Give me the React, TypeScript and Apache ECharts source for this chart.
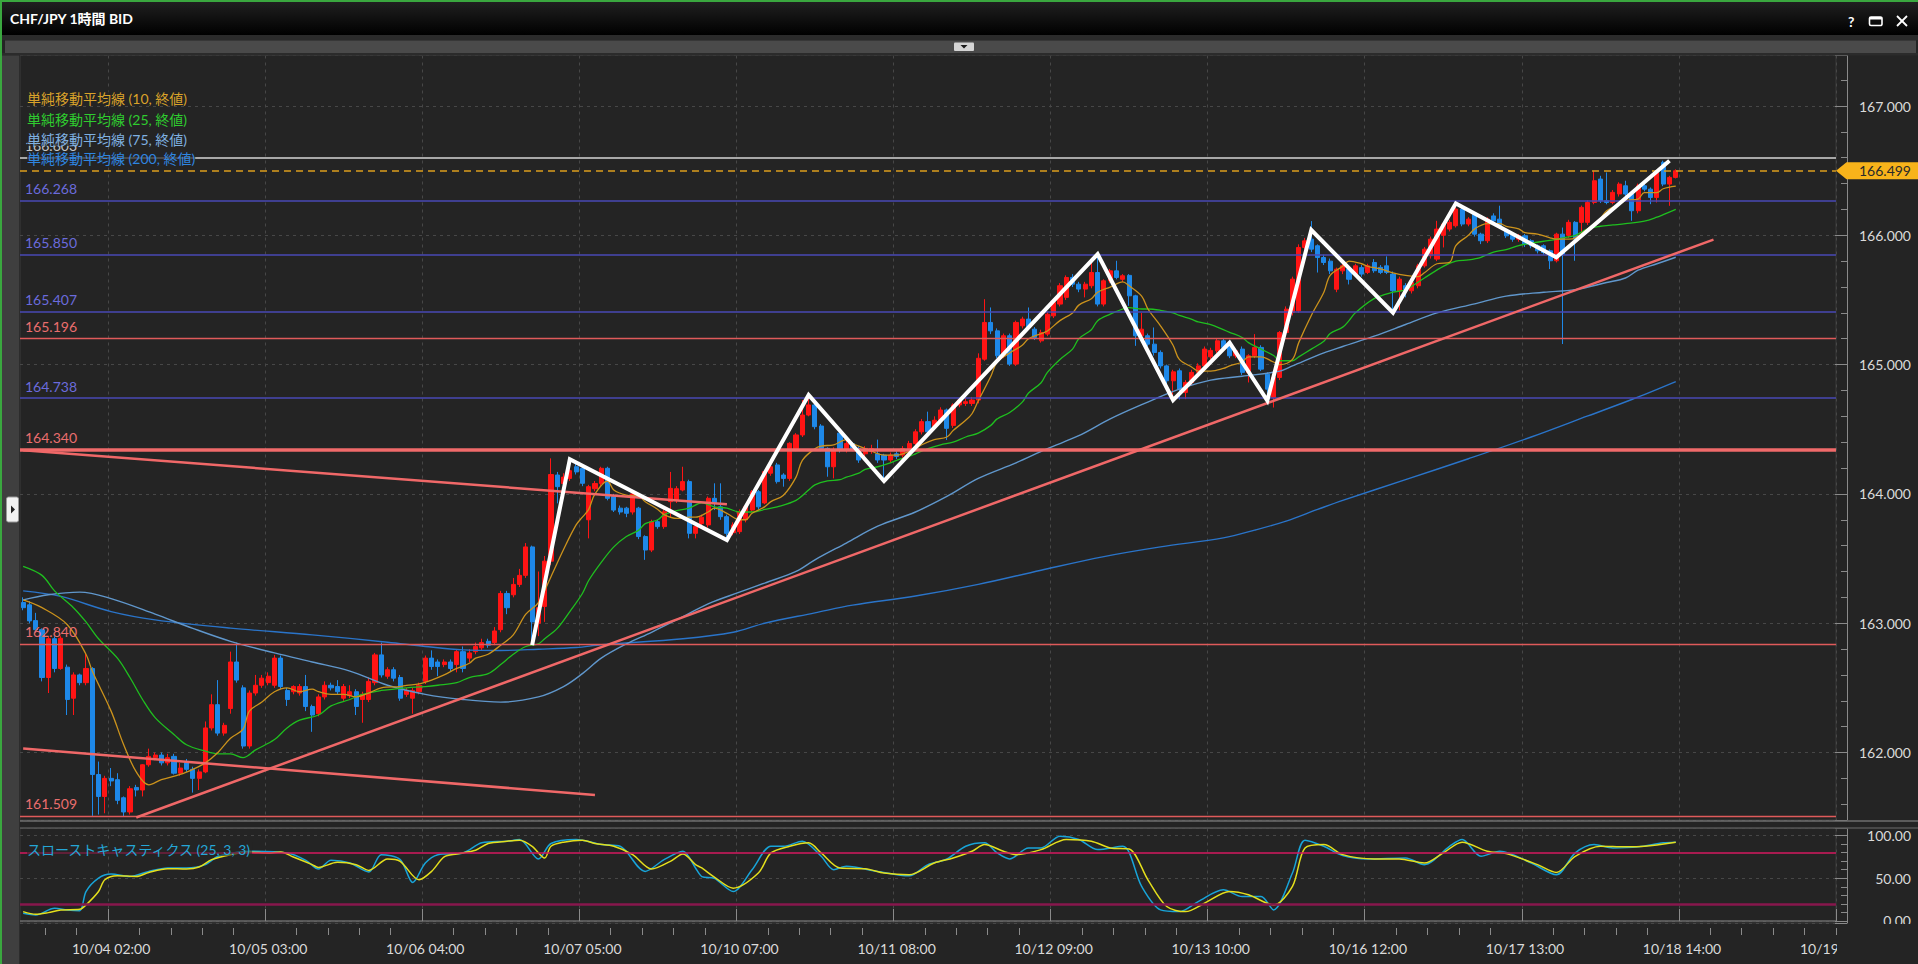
import React, { useEffect, useRef } from 'react';
import * as echarts from 'echarts';

const FONT = 'Lato, "Noto Sans CJK JP", "Noto Sans", sans-serif';

// ---- axis definitions ----
const N_BARS = 289;
const FIRST_TICK = 14;
const TICK_STEP = 25;
const MINOR_STEP = 5;
const xTickLabels = ['10/04 02:00', '10/05 03:00', '10/06 04:00', '10/07 05:00', '10/10 07:00', '10/11 08:00', '10/12 09:00', '10/13 10:00', '10/16 12:00', '10/17 13:00', '10/18 14:00', '10/19 15:00'];
const categories = Array.from({ length: N_BARS }, (_, i) => String(i));
const priceMin = 161.478;
const priceMax = 167.3906;
const stochMin = -2.34;
const stochMax = 108.19;

// ---- candles: [open, close, low, high] ----
const candles: number[][] = [
  [163.16, 163.12, 163.10, 163.20], [163.142, 163.018, 163.00, 163.17], [163.02, 162.95, 162.93, 163.08], [162.95, 162.58, 162.55, 162.96],
  [162.58, 162.88, 162.46, 162.90], [162.88, 162.65, 162.62, 162.90], [162.65, 162.884, 162.64, 162.90], [162.66, 162.41, 162.29, 162.68],
  [162.42, 162.60, 162.29, 162.62], [162.60, 162.54, 162.52, 162.61], [162.54, 162.65, 162.52, 162.77], [162.65, 161.83, 161.51, 162.66],
  [161.83, 161.66, 161.52, 161.93], [161.66, 161.80, 161.53, 161.82], [161.80, 161.78, 161.74, 161.88], [161.79, 161.63, 161.60, 161.84],
  [161.65, 161.54, 161.505, 161.66], [161.54, 161.72, 161.52, 161.74], [161.73, 161.71, 161.66, 161.75], [161.71, 161.905, 161.66, 161.91],
  [161.905, 161.97, 161.89, 162.03], [161.96, 161.98, 161.94, 162.00], [161.98, 161.92, 161.90, 162.00], [161.92, 161.96, 161.90, 161.99],
  [161.97, 161.84, 161.83, 161.99], [161.84, 161.88, 161.82, 161.92], [161.92, 161.87, 161.85, 161.95], [161.87, 161.80, 161.69, 161.89],
  [161.80, 161.85, 161.71, 161.87], [161.85, 162.19, 161.84, 162.24], [162.19, 162.37, 162.17, 162.45], [162.37, 162.15, 162.13, 162.56],
  [162.15, 162.21, 162.13, 162.23], [162.34, 162.70, 162.30, 162.78], [162.70, 162.56, 162.54, 162.85], [162.50, 162.05, 162.03, 162.52],
  [162.05, 162.46, 162.03, 162.48], [162.46, 162.52, 162.44, 162.60], [162.52, 162.575, 162.50, 162.60], [162.54, 162.59, 162.52, 162.62],
  [162.52, 162.73, 162.50, 162.755], [162.73, 162.51, 162.49, 162.75], [162.48, 162.41, 162.36, 162.50], [162.47, 162.51, 162.45, 162.52],
  [162.46, 162.51, 162.44, 162.53], [162.51, 162.356, 162.32, 162.60], [162.356, 162.29, 162.16, 162.37], [162.30, 162.43, 162.28, 162.45],
  [162.43, 162.52, 162.41, 162.55], [162.52, 162.50, 162.48, 162.54], [162.51, 162.47, 162.45, 162.56], [162.42, 162.51, 162.40, 162.53],
  [162.44, 162.47, 162.42, 162.52], [162.47, 162.356, 162.29, 162.49], [162.41, 162.45, 162.23, 162.47], [162.41, 162.55, 162.39, 162.58],
  [162.54, 162.755, 162.52, 162.77], [162.755, 162.60, 162.58, 162.85], [162.59, 162.64, 162.57, 162.66], [162.64, 162.575, 162.55, 162.66],
  [162.58, 162.42, 162.40, 162.60], [162.45, 162.48, 162.43, 162.50], [162.42, 162.48, 162.30, 162.50], [162.47, 162.52, 162.45, 162.54],
  [162.55, 162.73, 162.53, 162.75], [162.73, 162.665, 162.64, 162.79], [162.70, 162.665, 162.59, 162.72], [162.68, 162.70, 162.66, 162.72],
  [162.70, 162.65, 162.63, 162.72], [162.68, 162.78, 162.62, 162.80], [162.78, 162.65, 162.62, 162.82], [162.73, 162.77, 162.70, 162.80],
  [162.78, 162.82, 162.76, 162.85], [162.81, 162.85, 162.79, 162.88], [162.86, 162.83, 162.81, 162.88], [162.85, 162.94, 162.83, 162.97],
  [162.95, 163.23, 162.93, 163.25], [163.23, 163.12, 163.07, 163.25], [163.22, 163.30, 163.20, 163.35], [163.30, 163.37, 163.28, 163.42],
  [163.37, 163.59, 163.35, 163.62], [163.59, 163.01, 162.84, 163.60], [163.00, 163.12, 162.90, 163.40], [163.13, 163.48, 163.01, 163.52],
  [163.48, 164.15, 163.45, 164.275], [164.146, 164.056, 163.927, 164.17], [164.08, 164.13, 164.04, 164.16], [164.12, 164.18, 164.10, 164.22],
  [164.21, 164.17, 164.15, 164.25], [164.198, 164.082, 164.06, 164.22], [163.80, 164.056, 163.656, 164.07], [164.04, 164.08, 164.02, 164.10],
  [164.08, 164.198, 164.06, 164.21], [164.198, 163.966, 163.95, 164.21], [163.98, 163.875, 163.86, 164.00], [163.89, 163.86, 163.84, 163.91],
  [163.89, 163.85, 163.82, 163.90], [163.86, 164.00, 163.84, 164.02], [163.89, 163.67, 163.65, 163.90], [163.67, 163.566, 163.49, 163.68],
  [163.566, 163.785, 163.55, 163.80], [163.785, 163.747, 163.73, 163.80], [163.747, 163.862, 163.73, 163.88], [163.94, 164.043, 163.82, 164.17],
  [163.95, 164.04, 163.93, 164.06], [164.03, 164.095, 164.02, 164.21], [164.095, 163.695, 163.656, 164.11], [163.695, 163.747, 163.656, 163.76],
  [163.77, 163.82, 163.75, 163.84], [163.76, 163.966, 163.74, 163.98], [163.966, 163.927, 163.875, 164.082], [163.90, 163.824, 163.80, 164.082],
  [163.824, 163.695, 163.643, 163.84], [163.70, 163.76, 163.68, 163.78], [163.708, 163.862, 163.69, 163.88], [163.80, 163.90, 163.78, 163.92],
  [163.875, 164.017, 163.86, 164.03], [164.017, 163.90, 163.88, 164.03], [163.93, 164.172, 163.92, 164.18], [164.16, 164.21, 164.14, 164.24],
  [164.224, 164.095, 164.08, 164.24], [164.146, 164.12, 164.056, 164.16], [164.12, 164.391, 164.10, 164.40], [164.35, 164.456, 164.33, 164.47],
  [164.456, 164.61, 164.44, 164.726], [164.61, 164.688, 164.60, 164.765], [164.688, 164.52, 164.50, 164.70], [164.525, 164.352, 164.33, 164.54],
  [164.352, 164.21, 164.133, 164.36], [164.21, 164.34, 164.12, 164.36], [164.47, 164.34, 164.32, 164.50], [164.34, 164.39, 164.32, 164.41],
  [164.39, 164.352, 164.33, 164.40], [164.352, 164.262, 164.24, 164.37], [164.31, 164.352, 164.29, 164.37], [164.33, 164.35, 164.31, 164.38],
  [164.31, 164.262, 164.24, 164.42], [164.30, 164.262, 164.10, 164.31], [164.262, 164.30, 164.24, 164.32], [164.31, 164.29, 164.27, 164.33],
  [164.30, 164.35, 164.28, 164.37], [164.35, 164.39, 164.33, 164.41], [164.39, 164.48, 164.37, 164.50], [164.48, 164.559, 164.46, 164.58],
  [164.559, 164.48, 164.46, 164.636], [164.52, 164.57, 164.50, 164.60], [164.57, 164.649, 164.55, 164.67], [164.649, 164.507, 164.417, 164.66],
  [164.53, 164.688, 164.51, 164.70], [164.688, 164.726, 164.67, 164.74], [164.70, 164.713, 164.68, 164.74], [164.70, 164.726, 164.68, 164.75],
  [164.726, 165.049, 164.70, 165.087], [165.042, 165.326, 165.03, 165.506], [165.326, 165.261, 165.236, 165.442], [165.261, 165.068, 165.05, 165.28],
  [165.068, 165.223, 165.05, 165.24], [165.223, 165.004, 164.99, 165.24], [165.004, 165.326, 164.99, 165.34], [165.30, 165.352, 165.28, 165.37],
  [165.352, 165.287, 165.27, 165.442], [165.274, 165.21, 165.19, 165.29], [165.184, 165.248, 165.17, 165.27], [165.236, 165.39, 165.22, 165.41],
  [165.377, 165.48, 165.36, 165.50], [165.468, 165.61, 165.45, 165.63], [165.52, 165.674, 165.50, 165.69], [165.674, 165.622, 165.60, 165.70],
  [165.622, 165.584, 165.56, 165.64], [165.584, 165.622, 165.52, 165.64], [165.61, 165.712, 165.59, 165.80], [165.712, 165.468, 165.45, 165.855],
  [165.468, 165.648, 165.45, 165.66], [165.648, 165.725, 165.63, 165.74], [165.725, 165.674, 165.66, 165.803], [165.66, 165.687, 165.64, 165.70],
  [165.69, 165.532, 165.455, 165.70], [165.532, 165.223, 165.145, 165.54], [165.223, 165.274, 165.20, 165.40], [165.223, 165.158, 165.14, 165.24],
  [165.158, 165.094, 165.07, 165.287], [165.094, 164.99, 164.97, 165.11], [164.99, 164.875, 164.85, 165.00], [164.875, 164.944, 164.74, 164.96],
  [164.952, 164.81, 164.73, 164.97], [164.785, 164.862, 164.733, 164.88], [164.862, 164.94, 164.84, 164.96], [164.94, 164.99, 164.92, 165.01],
  [164.99, 165.12, 164.97, 165.14], [165.06, 165.11, 165.04, 165.13], [165.107, 165.184, 165.09, 165.20], [165.184, 165.133, 165.12, 165.20],
  [165.145, 165.068, 165.05, 165.17], [165.068, 165.107, 165.05, 165.12], [165.12, 164.94, 164.92, 165.14], [164.94, 165.068, 164.862, 165.08],
  [165.068, 165.133, 165.05, 165.236], [165.133, 164.965, 164.95, 165.15], [164.926, 164.81, 164.759, 164.94], [164.746, 164.90, 164.668, 164.92],
  [164.90, 165.248, 164.88, 165.26], [165.248, 165.429, 165.23, 165.45], [165.403, 165.661, 165.38, 165.68], [165.416, 165.906, 165.40, 165.93],
  [165.906, 165.957, 165.89, 165.98], [165.97, 165.893, 165.87, 166.11], [165.919, 165.828, 165.712, 165.93], [165.828, 165.79, 165.77, 165.85],
  [165.80, 165.725, 165.70, 165.82], [165.583, 165.738, 165.56, 165.75], [165.725, 165.764, 165.70, 165.78], [165.738, 165.66, 165.62, 165.76],
  [165.70, 165.764, 165.68, 165.78], [165.75, 165.70, 165.68, 165.77], [165.713, 165.764, 165.70, 165.78], [165.79, 165.726, 165.71, 165.816],
  [165.752, 165.713, 165.70, 165.77], [165.764, 165.713, 165.70, 165.837], [165.70, 165.571, 165.416, 165.72], [165.571, 165.661, 165.42, 165.68],
  [165.61, 165.571, 165.52, 165.63], [165.571, 165.635, 165.55, 165.65], [165.61, 165.764, 165.59, 165.78], [165.764, 165.893, 165.75, 165.91],
  [165.842, 165.97, 165.82, 165.99], [165.816, 166.048, 165.80, 166.112], [166.0, 166.087, 165.906, 166.10], [166.048, 166.10, 166.03, 166.12],
  [166.074, 166.203, 166.06, 166.25], [166.203, 166.087, 166.07, 166.22], [166.087, 166.125, 166.07, 166.14], [166.164, 166.009, 165.99, 166.18],
  [166.009, 165.958, 165.932, 166.02], [165.958, 166.125, 165.94, 166.14], [166.15, 166.112, 166.09, 166.17], [166.125, 166.074, 166.06, 166.229],
  [166.035, 165.996, 165.98, 166.05], [166.0, 165.97, 165.95, 166.02], [165.97, 165.996, 165.95, 166.01], [165.996, 165.932, 165.91, 166.01],
  [165.958, 165.919, 165.90, 165.97], [165.919, 165.88, 165.86, 165.93], [165.919, 165.867, 165.85, 165.93], [165.88, 165.803, 165.739, 165.89],
  [165.803, 166.009, 165.79, 166.02], [166.009, 165.855, 165.159, 166.06], [166.0, 166.10, 165.98, 166.12], [166.10, 165.97, 165.803, 166.11],
  [166.10, 166.216, 165.98, 166.23], [166.10, 166.254, 166.08, 166.27], [166.254, 166.422, 166.24, 166.499], [166.435, 166.267, 166.25, 166.46],
  [166.267, 166.254, 166.24, 166.486], [166.254, 166.332, 166.24, 166.35], [166.32, 166.396, 166.30, 166.41], [166.383, 166.319, 166.30, 166.422],
  [166.319, 166.19, 166.112, 166.33], [166.19, 166.383, 166.17, 166.40], [166.383, 166.357, 166.34, 166.40], [166.357, 166.293, 166.241, 166.37],
  [166.293, 166.486, 166.254, 166.50], [166.564, 166.396, 166.38, 166.577], [166.396, 166.448, 166.228, 166.46], [166.448, 166.499, 166.44, 166.51],
];
const lastPrice = 166.499;

// ---- moving averages: [bar index, value] ----
const ma10: number[][] = [
  [0, 163.18], [3, 163.12], [7, 162.99], [10, 162.76], [11, 162.63], [14, 162.32], [16, 162.06], [18, 161.85], [20, 161.75], [22, 161.79],
  [25, 161.83], [27, 161.87], [29, 161.92], [31, 162.0], [33, 162.11], [35, 162.18], [36, 162.32], [38, 162.39], [40, 162.47], [42, 162.50],
  [44, 162.47], [46, 162.49], [47, 162.47], [49, 162.45], [51, 162.45], [53, 162.43], [55, 162.46], [57, 162.50], [60, 162.51], [61, 162.52],
  [63, 162.53], [65, 162.56], [67, 162.60], [69, 162.65], [71, 162.69], [72, 162.73], [74, 162.76], [76, 162.83], [78, 162.91], [80, 163.07],
  [82, 163.16], [84, 163.36], [86, 163.57], [88, 163.76], [89, 163.82], [90, 163.88], [91, 164.0], [93, 164.10], [94, 164.03], [96, 163.99],
  [98, 163.98], [99, 163.94], [101, 163.88], [102, 163.84], [104, 163.81], [106, 163.82], [107, 163.82], [109, 163.86], [110, 163.89], [112, 163.85],
  [114, 163.80], [115, 163.80], [116, 163.85], [118, 163.90], [119, 163.94], [121, 163.99], [123, 164.13], [124, 164.26], [126, 164.35], [127, 164.37],
  [129, 164.38], [131, 164.42], [132, 164.39], [134, 164.35], [135, 164.33], [137, 164.30], [139, 164.30], [140, 164.31], [142, 164.35], [143, 164.38],
  [145, 164.42], [147, 164.44], [148, 164.49], [150, 164.57], [151, 164.62], [152, 164.72], [154, 164.91], [155, 165.02], [157, 165.09], [159, 165.15],
  [160, 165.20], [162, 165.24], [163, 165.26], [165, 165.34], [167, 165.40], [168, 165.46], [170, 165.51], [171, 165.56], [173, 165.60], [175, 165.64],
  [176, 165.61], [178, 165.53], [179, 165.43], [181, 165.30], [183, 165.15], [184, 165.04], [186, 164.98], [187, 164.95], [189, 164.95], [191, 164.97],
  [192, 164.99], [194, 165.02], [195, 165.06], [197, 165.06], [199, 165.02], [200, 165.0], [202, 165.04], [203, 165.17], [205, 165.38], [207, 165.56],
  [208, 165.69], [210, 165.76], [211, 165.80], [213, 165.78], [214, 165.76], [216, 165.74], [218, 165.71], [220, 165.69], [222, 165.68], [223, 165.71],
  [225, 165.78], [227, 165.79], [228, 165.92], [230, 166.0], [231, 166.05], [233, 166.09], [235, 166.09], [236, 166.07], [238, 166.05], [239, 166.02],
  [241, 166.01], [243, 165.98], [244, 165.97], [246, 165.97], [247, 165.98], [249, 166.05], [251, 166.13], [252, 166.19], [254, 166.24], [255, 166.27],
  [257, 166.28], [258, 166.33], [260, 166.33], [261, 166.36], [263, 166.38],
];
const ma25: number[][] = [
  [0, 163.44], [3, 163.37], [5, 163.25], [8, 163.12], [10, 163.01], [12, 162.88], [15, 162.73], [17, 162.58], [19, 162.41], [21, 162.27],
  [24, 162.14], [26, 162.06], [29, 162.01], [31, 161.99], [33, 161.99], [35, 161.96], [37, 162.02], [40, 162.10], [42, 162.19], [44, 162.25],
  [47, 162.29], [49, 162.36], [52, 162.41], [54, 162.45], [57, 162.48], [59, 162.49], [61, 162.50], [64, 162.51], [66, 162.52], [69, 162.54],
  [71, 162.58], [74, 162.61], [76, 162.68], [78, 162.76], [80, 162.82], [82, 162.84], [83, 162.88], [85, 162.96], [87, 163.09], [89, 163.23],
  [90, 163.33], [92, 163.47], [94, 163.59], [96, 163.67], [98, 163.72], [99, 163.77], [101, 163.80], [102, 163.84], [104, 163.87], [106, 163.89],
  [108, 163.93], [110, 163.90], [112, 163.89], [114, 163.86], [116, 163.86], [118, 163.88], [120, 163.90], [123, 163.95], [125, 164.03], [126, 164.07],
  [128, 164.10], [130, 164.11], [131, 164.13], [133, 164.16], [134, 164.19], [136, 164.21], [138, 164.24], [139, 164.26], [141, 164.29], [142, 164.31],
  [144, 164.35], [146, 164.38], [148, 164.40], [150, 164.44], [152, 164.47], [154, 164.53], [155, 164.58], [157, 164.63], [159, 164.71], [160, 164.78],
  [162, 164.86], [163, 164.94], [165, 165.04], [167, 165.12], [168, 165.20], [170, 165.27], [171, 165.34], [173, 165.39], [175, 165.43], [176, 165.44],
  [178, 165.43], [179, 165.43], [181, 165.42], [183, 165.40], [184, 165.38], [186, 165.35], [187, 165.33], [189, 165.31], [191, 165.27], [192, 165.25],
  [194, 165.21], [195, 165.17], [197, 165.12], [199, 165.07], [200, 165.03], [202, 165.03], [203, 165.06], [205, 165.12], [207, 165.18], [208, 165.24],
  [210, 165.29], [211, 165.34], [212, 165.40], [215, 165.51], [218, 165.56], [220, 165.58], [223, 165.67], [226, 165.76], [228, 165.80], [230, 165.81],
  [232, 165.83], [234, 165.87], [236, 165.89], [238, 165.92], [240, 165.94], [243, 165.96], [245, 165.98], [247, 166.00], [249, 166.05], [251, 166.07],
  [253, 166.08], [255, 166.09], [258, 166.11], [260, 166.14], [261, 166.16], [263, 166.20],
];
const ma75: number[][] = [
  [0, 163.18], [4, 163.22], [9, 163.24], [14, 163.19], [21, 163.07], [27, 162.96], [33, 162.86], [40, 162.77], [46, 162.70], [52, 162.63],
  [58, 162.52], [64, 162.45], [70, 162.41], [76, 162.39], [82, 162.43], [86, 162.51], [89, 162.61], [92, 162.73], [96, 162.84], [100, 162.93],
  [105, 163.05], [109, 163.15], [114, 163.24], [118, 163.31], [123, 163.40], [126, 163.49], [131, 163.62], [136, 163.75], [142, 163.86], [147, 163.98],
  [152, 164.12], [158, 164.24], [163, 164.35], [168, 164.45], [173, 164.58], [178, 164.69], [184, 164.81], [189, 164.88], [194, 164.91], [200, 164.95],
  [202, 164.99], [207, 165.09], [210, 165.14], [215, 165.22], [220, 165.31], [225, 165.40], [231, 165.47], [236, 165.53], [242, 165.56], [247, 165.58],
  [252, 165.635], [255, 165.67], [257, 165.73], [260, 165.78], [263, 165.83],
];
const ma200: number[][] = [
  [0, 163.25], [6, 163.207], [14, 163.09], [21, 163.026], [33, 162.962], [46, 162.91], [58, 162.853], [64, 162.82], [70, 162.794], [76, 162.789],
  [82, 162.799], [88, 162.812], [92, 162.833], [105, 162.88], [113, 162.93], [118, 163.0], [126, 163.08], [132, 163.14], [142, 163.21], [152, 163.30],
  [162, 163.41], [172, 163.515], [181, 163.59], [191, 163.66], [196, 163.72], [201, 163.79], [206, 163.88], [210, 163.95], [220, 164.11], [230, 164.272],
  [240, 164.44], [249, 164.603], [256, 164.73], [263, 164.869],
];

// ---- horizontal levels, trend lines and the white zigzag ----
const levelPrices = [166.603, 166.268, 165.850, 165.407, 165.196, 164.738, 164.340, 162.840, 161.509];
const levelKinds = ['gray', 'blue', 'blue', 'blue', 'red', 'blue', 'redBold', 'red', 'red'];
const trendLine1: number[][] = [[0, 164.338], [112, 163.92]];
const trendLine2: number[][] = [[0, 162.031], [91, 161.671]];
const trendLine3: number[][] = [[18, 161.497], [269, 165.967]];
const zigzag: number[][] = [
  [81, 162.831], [87, 164.268], [112, 163.643], [125, 164.765], [137, 164.100], [171, 165.855], [183, 164.726],
  [192, 165.169], [198, 164.721], [205, 166.041], [218, 165.401], [228, 166.247], [244, 165.830], [262, 166.577],
];

// ---- slow stochastics (25,3,3) ----
const stochK: number[][] = [
  [0, 9], [2, 7], [5, 14.9], [7, 12.9], [9, 12], [10, 34.5], [12, 50.2], [14, 54.9], [17, 52.1], [20, 58], [23, 62], [26, 62], [29, 65.9],
  [31, 75.7], [34, 80.4], [36, 81.6], [42, 79.6], [45, 71], [47, 60.8], [49, 71], [52, 67.8], [55, 57.3], [57, 77.6], [60, 71.8], [62, 45.1],
  [64, 67.8], [66, 77.6], [70, 79.6], [73, 91.4], [77, 93.3], [79, 95.3], [82, 72.5], [84, 90.6], [88, 95.3], [92, 89.4], [95, 87.4], [99, 58],
  [102, 71.8], [105, 81.6], [107, 62], [108, 52], [110, 50], [113, 34.5], [116, 60], [119, 87.4], [121, 87.4], [124, 93.3], [127, 75.7], [129, 60],
  [131, 63.9], [136, 58], [141, 52.9], [144, 65.9], [147, 72.5], [150, 87.4], [153, 91.4], [155, 79.6], [157, 72.5], [160, 85.5], [162, 85.5],
  [165, 99.2], [168, 95.3], [171, 83.5], [175, 87.4], [178, 40.4], [181, 13], [184, 11], [187, 22.7], [191, 36.5], [194, 28.6], [197, 28.6],
  [199, 13], [202, 56.1], [204, 94.5], [207, 87.4], [210, 76.5], [214, 72.5], [220, 73.7], [223, 65.9], [227, 87.4], [229, 95.3], [232, 75.7],
  [235, 81.6], [240, 67.8], [244, 54.1], [247, 79.6], [250, 89.4], [253, 85.5], [257, 86.7], [261, 91.4], [263, 92.2],
];
const stochD: number[][] = [
  [0, 11], [2, 7.8], [4, 9.8], [6, 12.9], [9, 13.7], [10, 18.8], [12, 34.5], [13, 48.2], [15, 52.9], [18, 52.1], [20, 56.8], [23, 61.2],
  [26, 60.8], [28, 63.1], [30, 71.8], [33, 77.6], [36, 80.4], [39, 79.6], [41, 80.8], [43, 74.9], [46, 65.9], [47, 62.7], [50, 68.6], [53, 65.9],
  [55, 59.2], [58, 72.5], [60, 69.8], [63, 48.2], [65, 58], [67, 74.9], [69, 78.4], [72, 82.7], [74, 90.6], [77, 93.3], [79, 94.5], [81, 87.4],
  [83, 73.7], [84, 87.4], [86, 92.2], [89, 94.5], [91, 90.6], [94, 87.4], [97, 77.6], [100, 60.8], [103, 69.8], [105, 78.4], [107, 66], [108, 62],
  [110, 51.4], [113, 38.4], [117, 56.1], [119, 79.6], [122, 87.4], [125, 91.4], [127, 79.6], [130, 61.9], [134, 61.2], [137, 56.1], [141, 54.1],
  [145, 67.8], [148, 73.7], [151, 81.6], [153, 89.4], [156, 81.6], [158, 77.6], [162, 83.5], [166, 95.3], [170, 93.3], [173, 85.5], [176, 84.3],
  [179, 48.2], [182, 16.9], [185, 11], [188, 20.8], [192, 34.5], [195, 30.6], [199, 18.8], [202, 40.4], [204, 85.5], [207, 89.4], [210, 77.6],
  [215, 72.5], [219, 72.5], [223, 67.8], [226, 79.6], [229, 92.2], [233, 81.6], [236, 78.8], [241, 65.9], [244, 56.8], [247, 75.7], [251, 87.4],
  [255, 86.7], [258, 87.4], [263, 92.2],
];
const stochLevels = [80, 20];

// ---- legend texts ----
const maLegend = ['単純移動平均線 (10, 終値)', '単純移動平均線 (25, 終値)', '単純移動平均線 (75, 終値)', '単純移動平均線 (200, 終値)'];
const stochLegend = 'スローストキャスティクス (25, 3, 3)';
const title = 'CHF/JPY 1時間 BID';

// ---- styles ----
const C = {
  bg: '#242424',
  up: '#ff1414',
  down: '#1e88e8',
  ma10: '#cc931c',
  ma25: '#1fbf1f',
  ma75: '#6097cc',
  ma200: '#2a74c9',
  leg10: '#d9a22a',
  leg25: '#2fcc2f',
  leg75: '#7fb0e0',
  leg200: '#2f86e0',
  trend: '#f06868',
  grid: '#474747',
  axis: '#8a8a8a',
  label: '#dadada',
  stochK: '#18a4d8',
  stochD: '#e4df1c',
};
const levelStyle: Record<string, { color: string; width: number; text: string }> = {
  gray: { color: '#a8a8a8', width: 2, text: '#c4c4c4' },
  blue: { color: '#4848b4', width: 1.5, text: '#6b6bdc' },
  red: { color: '#df5a5a', width: 1.3, text: '#ea6e6e' },
  redBold: { color: '#f06a6a', width: 3.5, text: '#ea6e6e' },
};

const isMajor = (i: number) => i >= FIRST_TICK && (i - FIRST_TICK) % TICK_STEP === 0;
const isMinor = (i: number) => (i - FIRST_TICK) % MINOR_STEP === 0 && !isMajor(i);

function buildOption(): any {
  const lineSeries = (data: number[][], color: string, width: number, z: number, smooth: number | boolean = 0.35) => ({
    type: 'line', data, xAxisIndex: 0, yAxisIndex: 0, symbol: 'none', showSymbol: false, smooth,
    lineStyle: { color, width }, z, silent: true,
  });
  return {
    animation: false,
    backgroundColor: C.bg,
    textStyle: { fontFamily: FONT },
    grid: [
      { left: 20, top: 55.5, width: 1816, height: 764.5, show: true, borderColor: '#3a3a3a', borderWidth: 1, outerBoundsMode: 'none', containLabel: false },
      { left: 20, top: 828.5, width: 1816, height: 94.5, show: true, borderColor: '#3a3a3a', borderWidth: 1, outerBoundsMode: 'none', containLabel: false },
    ],
    xAxis: [
      {
        type: 'category', gridIndex: 0, data: categories, boundaryGap: true,
        axisLine: { show: false }, axisTick: { show: false }, axisLabel: { show: false },
        splitLine: { show: true, interval: (i: number) => isMajor(i), lineStyle: { color: C.grid, type: [3, 4], width: 1 } },
      },
      {
        type: 'category', gridIndex: 1, data: categories, boundaryGap: true, offset: 12, position: 'bottom',
        axisLine: { show: true, lineStyle: { color: '#6a6a6a', width: 1.5 } },
        axisTick: { show: true, inside: true, length: 12, interval: (i: number) => isMajor(i), lineStyle: { color: C.axis } },
        axisLabel: {
          show: true, interval: (i: number) => isMajor(i), color: C.label, fontSize: 14, fontFamily: FONT, margin: 6,
          formatter: (_v: string, idx: number) => xTickLabels[(idx - FIRST_TICK) / TICK_STEP] ?? '',
        },
        splitLine: { show: true, interval: (i: number) => isMajor(i), lineStyle: { color: C.grid, type: [3, 4], width: 1 } },
      },
      {
        type: 'category', gridIndex: 1, data: categories, boundaryGap: true, offset: 12, position: 'bottom',
        axisLine: { show: false }, axisLabel: { show: false }, splitLine: { show: false },
        axisTick: { show: true, inside: true, length: 7, interval: (i: number) => isMinor(i), lineStyle: { color: C.axis } },
      },
    ],
    yAxis: [
      {
        type: 'value', gridIndex: 0, position: 'right', offset: 11, min: priceMin, max: priceMax,
        splitNumber: 5, minInterval: 1, maxInterval: 1,
        axisLine: { show: true, lineStyle: { color: C.axis } },
        axisTick: { show: true, inside: true, length: 12, lineStyle: { color: C.axis } },
        minorTick: { show: true, splitNumber: 5, length: 6, lineStyle: { color: C.axis } },
        axisLabel: {
          color: C.label, fontSize: 14, fontFamily: FONT, align: 'right', margin: 64,
          showMinLabel: false, showMaxLabel: false, formatter: (v: number) => v.toFixed(3),
        },
        splitLine: { show: true, lineStyle: { color: C.grid, type: [3, 4] } },
      },
      {
        type: 'value', gridIndex: 1, position: 'right', offset: 11, min: stochMin, max: stochMax,
        splitNumber: 2, minInterval: 50, maxInterval: 50,
        axisLine: { show: true, lineStyle: { color: C.axis } },
        axisTick: { show: true, inside: true, length: 12, lineStyle: { color: C.axis } },
        minorTick: { show: true, splitNumber: 5, length: 6, lineStyle: { color: C.axis } },
        axisLabel: {
          color: C.label, fontSize: 14, fontFamily: FONT, align: 'right', margin: 64,
          showMinLabel: false, showMaxLabel: false, formatter: (v: number) => v.toFixed(2),
        },
        splitLine: { show: true, lineStyle: { color: C.grid, type: [3, 4] } },
      },
    ],
    series: [
      {
        type: 'candlestick', name: 'CHF/JPY', data: candles, xAxisIndex: 0, yAxisIndex: 0, barWidth: 4.6, z: 2, silent: true,
        itemStyle: { color: C.up, color0: C.down, borderColor: C.up, borderColor0: C.down, borderWidth: 1 },
      },
      lineSeries(ma200, C.ma200, 1.4, 3),
      lineSeries(ma75, C.ma75, 1.4, 3),
      lineSeries(ma25, C.ma25, 1.3, 3),
      lineSeries(ma10, C.ma10, 1.3, 3),
      {
        type: 'line', data: [], xAxisIndex: 0, yAxisIndex: 0, z: 4, silent: true,
        markLine: {
          silent: true, symbol: ['none', 'none'], animation: false,
          data: [
            ...levelPrices.map((p, k) => {
              const s = levelStyle[levelKinds[k]];
              return {
                yAxis: p,
                lineStyle: { color: s.color, width: s.width, type: 'solid' },
                label: {
                  show: true, position: 'insideStartTop', distance: 5, formatter: () => p.toFixed(3),
                  color: s.text, fontSize: 14, fontFamily: FONT,
                },
              };
            }),
            {
              yAxis: lastPrice,
              lineStyle: { color: '#dc9d1c', width: 1.5, type: [7, 5] },
              label: { show: false },
            },
          ],
        },
      },
      lineSeries(trendLine1, C.trend, 2.5, 5, false),
      lineSeries(trendLine2, C.trend, 2.5, 5, false),
      lineSeries(trendLine3, C.trend, 2.5, 5, false),
      { ...lineSeries(zigzag, '#ffffff', 4, 6, false), lineStyle: { color: '#ffffff', width: 4, join: 'miter' } },
      {
        type: 'line', data: stochK, xAxisIndex: 1, yAxisIndex: 1, symbol: 'none', smooth: 0.3, silent: true, z: 3,
        lineStyle: { color: C.stochK, width: 1.5 },
        markLine: {
          silent: true, symbol: ['none', 'none'], label: { show: false },
          data: [
            { yAxis: stochLevels[0], lineStyle: { color: '#d4185f', width: 1.6, type: 'solid' } },
            { yAxis: stochLevels[1], lineStyle: { color: '#87174d', width: 2.6, type: 'solid' } },
          ],
        },
      },
      {
        type: 'line', data: stochD, xAxisIndex: 1, yAxisIndex: 1, symbol: 'none', smooth: 0.3, silent: true, z: 4,
        lineStyle: { color: C.stochD, width: 1.5 },
      },
    ],
  };
}

function buildGraphics(yTag: number, xLastLabel: number): any[] {
  const txt = (id: string, x: number, y: number, text: string, fill: string, font: string, extra: any = {}) => ({
    type: 'text', id, x, y, z: 50,
    style: { text, fill, font, textAlign: 'left', textVerticalAlign: 'middle', align: 'left', verticalAlign: 'middle', ...extra },
  });
  const legendColors = [C.leg10, C.leg25, C.leg75, C.leg200];
  const legendY = [98.5, 119, 139, 158.5];
  return [
    // window chrome
    { type: 'rect', id: 'titlebar', shape: { x: 0, y: 0, width: 1918, height: 35 }, z: 40,
      style: { fill: { type: 'linear', x: 0, y: 0, x2: 0, y2: 1, colorStops: [{ offset: 0, color: '#222222' }, { offset: 1, color: '#000000' }] } } },
    { type: 'rect', id: 'greenTop', shape: { x: 0, y: 0, width: 1918, height: 2 }, style: { fill: '#3aa83f' }, z: 41 },
    { type: 'rect', id: 'greenLeft', shape: { x: 0, y: 0, width: 2, height: 964 }, style: { fill: '#3aa83f' }, z: 41 },
    { type: 'rect', id: 'strip1', shape: { x: 2, y: 35, width: 1916, height: 5 }, style: { fill: '#2b2b2b' }, z: 40 },
    { type: 'rect', id: 'toolbar', shape: { x: 5, y: 40.5, width: 1911, height: 12.5 }, style: { fill: '#4a4a4a' }, z: 40 },
    { type: 'rect', id: 'strip2', shape: { x: 2, y: 53, width: 1916, height: 2.5 }, style: { fill: '#2b2b2b' }, z: 40 },
    { type: 'rect', id: 'tbBtn', shape: { x: 954, y: 42.5, width: 20, height: 8.5, r: 1 }, style: { fill: '#d4d4d4' }, z: 41 },
    { type: 'polygon', id: 'tbArrow', shape: { points: [[960.5, 45], [967.5, 45], [964, 48.5]] }, style: { fill: '#1a1a1a' }, z: 42 },
    { type: 'rect', id: 'leftStrip', shape: { x: 2, y: 55.5, width: 17, height: 908.5 }, style: { fill: '#3f3f3f' }, z: 40 },
    { type: 'line', id: 'leftStripEdge', shape: { x1: 19.5, y1: 55.5, x2: 19.5, y2: 964 }, style: { stroke: '#2c2c2c', lineWidth: 1 }, z: 41 },
    { type: 'rect', id: 'tab', shape: { x: 6.5, y: 497, width: 12, height: 25, r: 2 }, style: { fill: '#f2f2f2', stroke: '#9a9a9a', lineWidth: 1 }, z: 42 },
    { type: 'polygon', id: 'tabArrow', shape: { points: [[11, 505.5], [15, 509.5], [11, 513.5]] }, style: { fill: '#222' }, z: 43 },
    txt('title', 10, 18.5, title, '#ffffff', 'bold 14px ' + FONT),
    txt('help', 1848, 21, '?', '#ffffff', 'bold 14px ' + FONT),
    { type: 'rect', id: 'maxIcon', shape: { x: 1869.5, y: 17, width: 12.5, height: 8.5, r: 1.5 }, style: { fill: 'none', stroke: '#ffffff', lineWidth: 1.6 }, z: 50 },
    { type: 'rect', id: 'maxIconBar', shape: { x: 1869.5, y: 17, width: 12.5, height: 2.5 }, style: { fill: '#ffffff' }, z: 50 },
    { type: 'line', id: 'close1', shape: { x1: 1897, y1: 16, x2: 1907, y2: 26 }, style: { stroke: '#ffffff', lineWidth: 1.8 }, z: 50 },
    { type: 'line', id: 'close2', shape: { x1: 1907, y1: 16, x2: 1897, y2: 26 }, style: { stroke: '#ffffff', lineWidth: 1.8 }, z: 50 },
    // panel separators
    { type: 'line', id: 'sep1', shape: { x1: 20, y1: 821, x2: 1918, y2: 821 }, style: { stroke: '#6e6e6e', lineWidth: 1.5 }, z: 30 },
    { type: 'line', id: 'sep2', shape: { x1: 20, y1: 828, x2: 1918, y2: 828 }, style: { stroke: '#555555', lineWidth: 1.5 }, z: 30 },
    // legends (drawn on a translucent backdrop, as in the platform)
    ...maLegend.map((t, k) => txt('leg' + k, 27, legendY[k], t, legendColors[k], '14px ' + FONT, { backgroundColor: 'rgba(36,36,36,0.72)' })),
    txt('stochLeg', 27, 849, stochLegend, '#25a6d6', '14px ' + FONT, { backgroundColor: 'rgba(36,36,36,0.55)' }),
    // last price tag
    { type: 'polygon', id: 'tag', shape: { points: [[1836, yTag], [1846.5, yTag - 8.5], [1918, yTag - 8.5], [1918, yTag + 8.5], [1846.5, yTag + 8.5]] },
      style: { fill: '#f8b31a' }, z: 60 },
    { type: 'text', id: 'tagText', x: 1911, y: yTag, z: 61,
      style: { text: lastPrice.toFixed(3), fill: '#2a2a2a', font: '14px ' + FONT, textAlign: 'right', align: 'right', textVerticalAlign: 'middle', verticalAlign: 'middle' } },
    // last (cut) time label and the right-bottom panel that clips it
    { type: 'text', id: 'lastTime', x: xLastLabel, y: 948, z: 20,
      style: { text: xTickLabels[xTickLabels.length - 1], fill: C.label, font: '14px ' + FONT, textAlign: 'center', align: 'center', textVerticalAlign: 'middle', verticalAlign: 'middle' } },
    { type: 'rect', id: 'cover', shape: { x: 1837, y: 924, width: 81, height: 40 }, style: { fill: C.bg }, z: 100 },
  ];
}

export default function App() {
  const ref = useRef<HTMLDivElement>(null);
  useEffect(() => {
    document.body.style.margin = '0';
    const chart = echarts.init(ref.current!, null, { renderer: 'svg' });
    chart.setOption(buildOption());
    const yTag = chart.convertToPixel({ yAxisIndex: 0 }, lastPrice) as unknown as number;
    const xa = chart.convertToPixel({ xAxisIndex: 1 }, N_BARS - 1) as unknown as number;
    const xb = chart.convertToPixel({ xAxisIndex: 1 }, N_BARS - 2) as unknown as number;
    chart.setOption({ graphic: { elements: buildGraphics(yTag, xa + (xa - xb)) } });
    return () => chart.dispose();
  }, []);
  return <div ref={ref} style={{ position: 'fixed', left: 0, top: 0, width: 1918, height: 964, background: '#242424' }} />;
}
